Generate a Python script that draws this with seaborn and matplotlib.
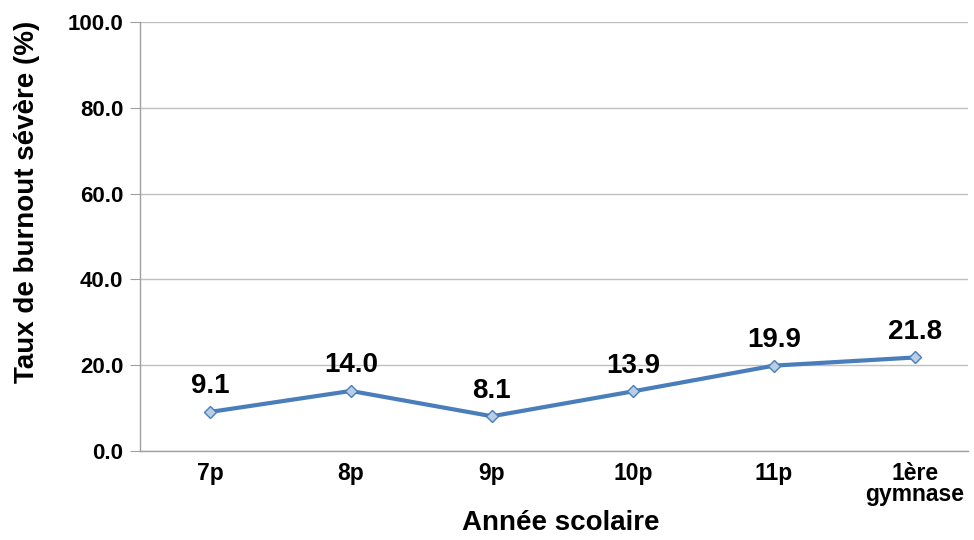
import pandas as pd
import seaborn as sns
import matplotlib.pyplot as plt

annees = ["7p", "8p", "9p", "10p", "11p", "1ère\ngymnase"]
taux = [9.1, 14.0, 8.1, 13.9, 19.9, 21.8]
y_ticks = [0, 20, 40, 60, 80, 100]

df = pd.DataFrame({"annee": annees, "taux": taux})

sns.set_style("white")
plt.rcParams['font.family'] = ['Liberation Sans', 'DejaVu Sans']
plt.rcParams['text.color'] = 'black'
plt.rcParams['axes.labelcolor'] = 'black'
plt.rcParams['xtick.color'] = 'black'
plt.rcParams['ytick.color'] = 'black'

fig = plt.figure(figsize=(9.74, 5.40), dpi=100)
ax = fig.add_axes([0.1437, 0.1648, 0.8501, 0.7945])

sns.lineplot(data=df, x="annee", y="taux", ax=ax, color="#4A7EBB", linewidth=3.0,
             marker="D", markersize=6, markerfacecolor="#B9CDE5",
             markeredgecolor="#4A7EBB", markeredgewidth=1.0, sort=False, zorder=3)

# valeurs au-dessus des points
for i, v in enumerate(taux):
    ax.annotate(f"{v:.1f}", (i, v), xytext=(0, 9), textcoords="offset points",
                ha="center", va="bottom", fontsize=20, fontweight="bold", color="black")

ax.set_ylim(0, 100)
ax.set_xlim(-0.496, 5.376)
ax.set_yticks(y_ticks)
ax.set_yticklabels([f"{t:.1f}" for t in y_ticks], fontsize=16, fontweight="bold")
ax.set_xticks(range(len(annees)))
ax.set_xticklabels(annees, fontsize=16.5, fontweight="bold", linespacing=0.9)
ax.yaxis.grid(True, color="#BFBFBF", linewidth=1.0)
ax.set_axisbelow(True)

for s in ["top", "right"]:
    ax.spines[s].set_visible(False)
for s in ["left", "bottom"]:
    ax.spines[s].set_color("#A0A0A0")
    ax.spines[s].set_linewidth(1.0)

ax.tick_params(axis="y", length=7, color="#A0A0A0", direction="out", pad=5, left=True)
ax.tick_params(axis="x", length=0, pad=8)

ax.set_xlabel("Année scolaire", fontsize=20, fontweight="bold")
ax.xaxis.set_label_coords(0.508, -0.137)
ax.set_ylabel("Taux de burnout sévère (%)", fontsize=20, fontweight="bold")
ax.yaxis.set_label_coords(-0.121, 0.58)

plt.savefig("out.png", dpi=100)
